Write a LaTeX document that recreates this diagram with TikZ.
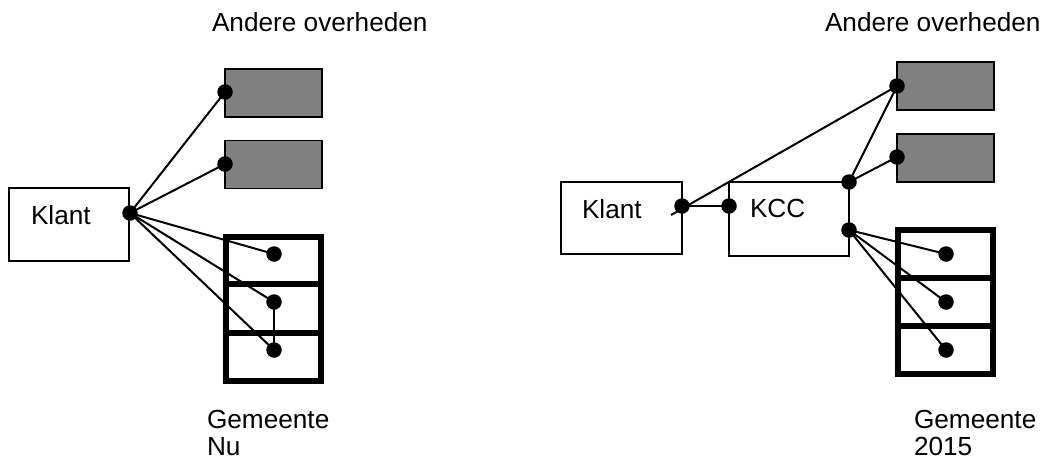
\documentclass[tikz,border=0pt]{standalone}
\usepackage{fontspec}
\setmainfont{Liberation Sans}
\begin{document}
\begin{tikzpicture}[x=1pt,y=-1pt,
  every node/.style={inner sep=0pt,outer sep=0pt},
  txt/.style={anchor=base west,font=\fontsize{26.2}{29}\selectfont},
  plainbox/.style={draw,line width=1.8pt,fill=white},
  graybox/.style={draw,line width=1.8pt,fill=black!50,minimum width=97pt,minimum height=48pt},
  rowbox/.style={draw,line width=6.8pt,minimum width=95pt,minimum height=48pt},
  dot/.style={circle,fill=black,minimum size=15.5pt},
  link/.style={line width=2pt}]
\useasboundingbox (0,0) rectangle (1045,461);

% ---------- left: Gemeente Nu ----------
\node[txt] (aoL) at (212,31.5) {Andere overheden};
\node[plainbox,minimum width=120pt,minimum height=73pt] (klantL) at (69,224.5) {};
\node[txt] (klantLt) at (31,224) {Klant};
\node[graybox] (g1L) at (273.5,93) {};
\node[graybox] (g2L) at (273.5,164.5) {};
\node[rowbox,minimum height=47pt] (r1L) at (273.5,260.5) {};
\node[rowbox,minimum height=49pt] (r2L) at (273.5,308.5) {};
\node[rowbox] (r3L) at (273.5,357) {};
\node[txt] (gemL) at (207,428) {Gemeente};
\node[txt] (nuL) at (207,455) {Nu};

\node[dot] (kdL) at (130,213) {};
\node[dot] (g1dL) at (225,92) {};
\node[dot] (g2dL) at (225,164) {};
\node[dot] (r1dL) at (274,254) {};
\node[dot] (r2dL) at (274,302) {};
\node[dot] (r3dL) at (274,350) {};

\draw[link] (kdL.center) -- (g1dL.center);
\draw[link] (kdL.center) -- (g2dL.center);
\draw[link] (kdL.center) -- (r1dL.center);
\draw[link] (kdL.center) -- (r2dL.center);
\draw[link] (kdL.center) -- (r3dL.center);
\draw[link] (r2dL.center) -- (r3dL.center);

% ---------- right: Gemeente 2015 ----------
\node[txt] (aoR) at (825,31.5) {Andere overheden};
\node[plainbox,minimum width=121pt,minimum height=72pt] (klantR) at (621.5,218) {};
\node[txt] (klantRt) at (582,218) {Klant};
\node[plainbox,minimum width=120pt,minimum height=74pt] (kcc) at (789,219) {};
\node[txt] (kcct) at (750,217) {KCC};
\node[graybox] (g1R) at (945.5,86) {};
\node[graybox] (g2R) at (945.5,158) {};
\node[rowbox] (r1R) at (945.5,254) {};
\node[rowbox] (r2R) at (945.5,302) {};
\node[rowbox] (r3R) at (945.5,350) {};
\node[txt] (gemR) at (914,428) {Gemeente};
\node[txt] (yrR) at (914,455) {2015};

\node[dot] (kdR) at (682,206) {};
\node[dot] (kccl) at (729,206) {};
\node[dot] (kcct1) at (849,182) {};
\node[dot] (kccb) at (849,230) {};
\node[dot] (g1dR) at (897,86) {};
\node[dot] (g2dR) at (897,157) {};
\node[dot] (r1dR) at (946,254) {};
\node[dot] (r2dR) at (946,302) {};
\node[dot] (r3dR) at (946,350) {};
\coordinate (tail) at (671,215);

\draw[link] (kdR.center) -- (kccl.center);
\draw[link] (tail) -- (g1dR.center);
\draw[link] (kcct1.center) -- (g1dR.center);
\draw[link] (kcct1.center) -- (g2dR.center);
\draw[link] (kccb.center) -- (r1dR.center);
\draw[link] (kccb.center) -- (r2dR.center);
\draw[link] (kccb.center) -- (r3dR.center);
\end{tikzpicture}
\end{document}
